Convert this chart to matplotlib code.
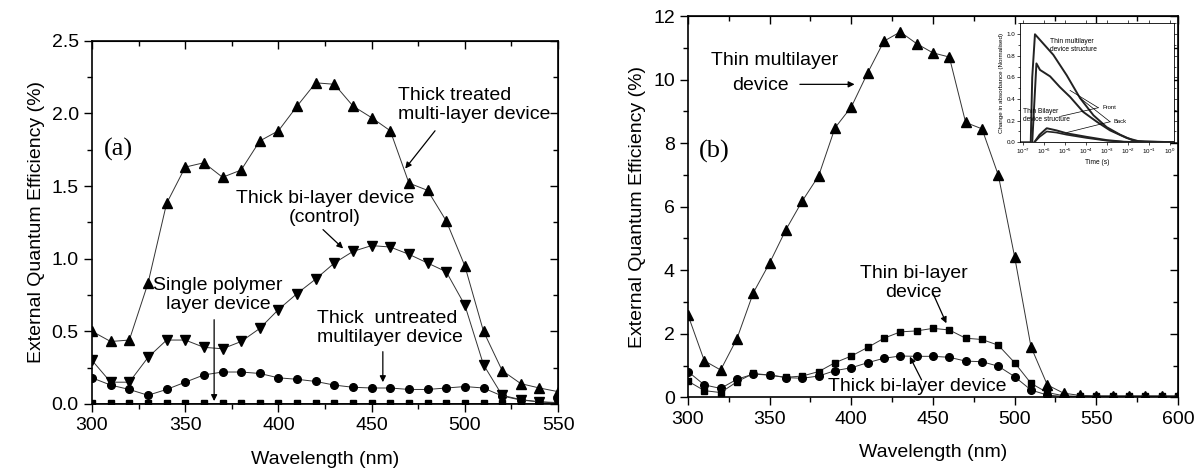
import numpy as np
import matplotlib
matplotlib.use("Agg")
import matplotlib.pyplot as plt
from matplotlib.ticker import MultipleLocator, LogLocator, NullFormatter

plt.rcParams['font.family'] = ['Liberation Sans', 'DejaVu Sans']
plt.rcParams['mathtext.fontset'] = 'custom'
plt.rcParams['mathtext.rm'] = 'Liberation Sans'

# ---- panel (a) data ----
wl_a = [300, 310, 320, 330, 340, 350, 360, 370, 380, 390, 400, 410, 420,
        430, 440, 450, 460, 470, 480, 490, 500, 510, 520, 530, 540, 550]
treated_multi = [0.50, 0.43, 0.44, 0.83, 1.38, 1.63, 1.66, 1.56, 1.61, 1.81, 1.88, 2.05, 2.21,
                 2.20, 2.05, 1.97, 1.88, 1.52, 1.47, 1.26, 0.95, 0.50, 0.23, 0.14, 0.11, 0.085]
bilayer_control = [0.30, 0.15, 0.15, 0.32, 0.44, 0.44, 0.39, 0.38, 0.43, 0.52, 0.65, 0.76, 0.86,
                   0.97, 1.05, 1.09, 1.08, 1.03, 0.97, 0.91, 0.68, 0.27, 0.06, 0.03, 0.015, 0.01]
untreated_multi = [0.18, 0.13, 0.10, 0.06, 0.10, 0.15, 0.20, 0.22, 0.22, 0.21, 0.18, 0.17, 0.155,
                   0.13, 0.115, 0.11, 0.11, 0.10, 0.10, 0.11, 0.12, 0.11, 0.055, 0.027, 0.015, 0.005]
single_polymer = [0.005, 0.005, 0.005, 0.005, 0.005, 0.005, 0.005, 0.005, 0.005, 0.005, 0.005, 0.005, 0.005,
                  0.005, 0.005, 0.005, 0.005, 0.005, 0.005, 0.005, 0.005, 0.005, 0.005, 0.005, 0.005, 0.005]

# ---- panel (b) data ----
wl_b = [300, 310, 320, 330, 340, 350, 360, 370, 380, 390, 400, 410, 420, 430, 440, 450,
        460, 470, 480, 490, 500, 510, 520, 530, 540, 550, 560, 570, 580, 590, 600]
thin_multi = [2.59, 1.15, 0.86, 1.85, 3.29, 4.23, 5.28, 6.18, 6.97, 8.48, 9.14, 10.21, 11.21, 11.50, 11.13, 10.84,
              10.71, 8.65, 8.45, 6.99, 4.42, 1.59, 0.39, 0.13, 0.06, 0.05, 0.05, 0.05, 0.05, 0.05, 0.05]
thin_bilayer = [0.51, 0.21, 0.15, 0.49, 0.75, 0.70, 0.63, 0.67, 0.81, 1.09, 1.30, 1.57, 1.86, 2.06, 2.09, 2.17,
                2.12, 1.86, 1.82, 1.64, 1.09, 0.44, 0.15, 0.05, 0.03, 0.03, 0.03, 0.03, 0.03, 0.03, 0.03]
thick_bilayer = [0.81, 0.39, 0.28, 0.57, 0.73, 0.70, 0.62, 0.60, 0.67, 0.84, 0.93, 1.09, 1.23, 1.30, 1.29, 1.29,
                 1.26, 1.14, 1.12, 0.98, 0.65, 0.23, 0.07, 0.03, 0.02, 0.02, 0.02, 0.02, 0.02, 0.02, 0.02]

# ---- inset data (log10 of time in s, normalised absorbance) ----
ml_front_logt = [-7.1, -6.62, -6.55, -6.42, -6.10, -5.55, -4.91, -4.28, -3.64, -3.01, -2.37, -1.74, -1.2, 0.2]
ml_front_y = [0.0, 0.0, 0.6, 1.0, 0.93, 0.81, 0.62, 0.41, 0.25, 0.14, 0.07, 0.015, 0.005, 0.0]
ml_back_logt = [-6.55, -6.35, -6.18, -5.70, -5.23, -4.75, -4.12, -3.48, -2.85, -2.06, -1.5, 0.2]
ml_back_y = [0.0, 0.73, 0.67, 0.61, 0.51, 0.42, 0.28, 0.19, 0.11, 0.04, 0.01, 0.0]
bl_front_logt = [-6.45, -6.2, -5.86, -5.4, -4.91, -3.96, -3.01, -2.2, -1.5, 0.2]
bl_front_y = [0.0, 0.07, 0.13, 0.11, 0.083, 0.05, 0.02, 0.005, 0.0, 0.0]
bl_back_logt = [-6.45, -6.2, -5.86, -5.4, -4.91, -3.96, -3.01, -2.2, -1.5, 0.2]
bl_back_y = [0.0, 0.05, 0.10, 0.09, 0.07, 0.04, 0.015, 0.004, 0.0, 0.0]

FS = 14
line_kw = dict(color='#333333', lw=0.7)


def style_axis(ax, xmaj, xmin, ymaj, ymin):
    ax.xaxis.set_major_locator(MultipleLocator(xmaj))
    ax.xaxis.set_minor_locator(MultipleLocator(xmin))
    ax.yaxis.set_major_locator(MultipleLocator(ymaj))
    ax.yaxis.set_minor_locator(MultipleLocator(ymin))
    ax.tick_params(which='both', direction='out', top=False, right=False,
                   labelsize=FS, width=1.0)
    ax.tick_params(which='major', length=6)
    ax.tick_params(which='minor', length=3.5)
    for s in ax.spines.values():
        s.set_linewidth(1.2)
    # mirrored ticks on top and right, pointing inwards
    top = ax.secondary_xaxis('top')
    top.xaxis.set_major_locator(MultipleLocator(xmaj))
    top.xaxis.set_minor_locator(MultipleLocator(xmin))
    top.tick_params(which='both', direction='in', labeltop=False, width=1.0)
    top.tick_params(which='major', length=6)
    top.tick_params(which='minor', length=3.5)
    right = ax.secondary_yaxis('right')
    right.yaxis.set_major_locator(MultipleLocator(ymaj))
    right.yaxis.set_minor_locator(MultipleLocator(ymin))
    right.tick_params(which='both', direction='in', labelright=False, width=1.0)
    right.tick_params(which='major', length=6)
    right.tick_params(which='minor', length=3.5)
    ax.set_xlabel('Wavelength (nm)', fontsize=FS, labelpad=12)
    ax.set_ylabel('External Quantum Efficiency (%)', fontsize=FS, labelpad=5)


def arrow(ax, xy, xytext):
    ax.annotate('', xy=xy, xytext=xytext,
                arrowprops=dict(arrowstyle='-|>', color='black', lw=0.9,
                                mutation_scale=9, shrinkA=0, shrinkB=0))


fig = plt.figure(figsize=(12.03, 4.73), dpi=100)

# ---------------- panel (a) ----------------
ax1 = fig.add_axes([0.0765, 0.1459, 0.3874, 0.7681])
ax1.plot(wl_a, single_polymer, marker='s', ms=4.5, mfc='black', mec='black', **line_kw)
ax1.plot(wl_a, untreated_multi, marker='o', ms=5.5, mfc='black', mec='black', **line_kw)
ax1.plot(wl_a, bilayer_control, marker='v', ms=6.5, mfc='black', mec='black', **line_kw)
ax1.plot(wl_a, treated_multi, marker='^', ms=6.5, mfc='black', mec='black', **line_kw)
ax1.set_xlim(300, 550)
ax1.set_ylim(0, 2.5)
style_axis(ax1, 50, 25, 0.5, 0.25)

ax1.text(314, 1.75, '(a)', family='Liberation Serif', fontsize=19, va='center', ha='center')
ax1.text(464, 2.06, 'Thick treated\nmulti-layer device', fontsize=FS, ha='left', va='center',
         linespacing=1.15)
arrow(ax1, (468, 1.62), (484, 1.88))
ax1.text(425, 1.35, 'Thick bi-layer device\n(control)', fontsize=FS, ha='center', va='center',
         linespacing=1.15)
arrow(ax1, (434.7, 1.07), (423.9, 1.20))
ax1.text(367.6, 0.75, 'Single polymer\nlayer device', fontsize=FS, ha='center', va='center',
         linespacing=1.15)
arrow(ax1, (365.5, 0.02), (365.5, 0.58))
ax1.text(420.5, 0.52, 'Thick  untreated\nmultilayer device', fontsize=FS, ha='left', va='center',
         linespacing=1.15)
arrow(ax1, (456, 0.15), (456, 0.36))

# ---------------- panel (b) ----------------
ax2 = fig.add_axes([0.5719, 0.1600, 0.4073, 0.8061])
ax2.plot(wl_b, thick_bilayer, marker='o', ms=5.5, mfc='black', mec='black', **line_kw)
ax2.plot(wl_b, thin_bilayer, marker='s', ms=5, mfc='black', mec='black', **line_kw)
ax2.plot(wl_b, thin_multi, marker='^', ms=6.5, mfc='black', mec='black', **line_kw)
ax2.set_xlim(300, 600)
ax2.set_ylim(0, 12)
style_axis(ax2, 50, 25, 2, 1)

ax2.text(316, 7.75, '(b)', family='Liberation Serif', fontsize=19, va='center', ha='center')
ax2.text(353, 10.6, 'Thin multilayer', fontsize=FS, ha='center', va='center')
ax2.text(344.6, 9.82, 'device', fontsize=FS, ha='center', va='center')
arrow(ax2, (402, 9.85), (368.5, 9.85))
ax2.text(438, 3.6, 'Thin bi-layer\ndevice', fontsize=FS, ha='center', va='center',
         linespacing=1.15)
arrow(ax2, (458.2, 2.33), (450, 3.27))
ax2.text(386, 0.35, 'Thick bi-layer device', fontsize=FS, ha='left', va='center')
arrow(ax2, (435.8, 1.28), (443, 0.55))

# ---------------- inset ----------------
ins = fig.add_axes([0.8479, 0.6992, 0.1280, 0.2512])
for lt, yv, lw in [(ml_front_logt, ml_front_y, 1.4), (ml_back_logt, ml_back_y, 1.4),
                   (bl_front_logt, bl_front_y, 1.4), (bl_back_logt, bl_back_y, 1.2)]:
    ins.plot(10.0 ** np.array(lt), yv, color='#222222', lw=lw)
ins.set_xscale('log')
ins.set_xlim(10 ** -7.13, 10 ** 0.19)
ins.set_ylim(0, 1.1)
ins.xaxis.set_major_locator(LogLocator(base=10, numticks=10))
ins.xaxis.set_minor_locator(LogLocator(base=10, subs=[], numticks=10))
ins.xaxis.set_minor_formatter(NullFormatter())
ins.yaxis.set_major_locator(MultipleLocator(0.2))
ins.yaxis.set_minor_locator(MultipleLocator(0.1))
ins.tick_params(which='both', labelsize=4.5, width=0.5, length=2, pad=1.5,
                top=True, right=True, direction='out')
ins.tick_params(which='minor', length=1.2)
for s in ins.spines.values():
    s.set_linewidth(0.6)
ins.set_xlabel('Time (s)', fontsize=4.8, labelpad=1.5)
ins.set_ylabel('Change in absorbance (Normalised)', fontsize=4.5, labelpad=1.5)
ins.text(10 ** -5.7, 0.90, 'Thin multilayer\ndevice structure', fontsize=4.8, ha='left', va='center')
ins.text(10 ** -7.0, 0.25, 'Thin Bilayer\ndevice structure', fontsize=4.8, ha='left', va='center')
ins.text(10 ** -3.2, 0.32, 'Front', fontsize=4.2, ha='left', va='center')
ins.text(10 ** -2.7, 0.19, 'Back', fontsize=4.2, ha='left', va='center')
for p0, p1 in [((-3.41, 0.32), (-4.75, 0.48)), ((-3.41, 0.32), (-5.2, 0.24)),
               ((-2.85, 0.19), (-4.28, 0.41)), ((-2.85, 0.19), (-4.91, 0.09))]:
    ins.plot([10 ** p0[0], 10 ** p1[0]], [p0[1], p1[1]], color='black', lw=0.5)

fig.savefig('out.png', dpi=100)
